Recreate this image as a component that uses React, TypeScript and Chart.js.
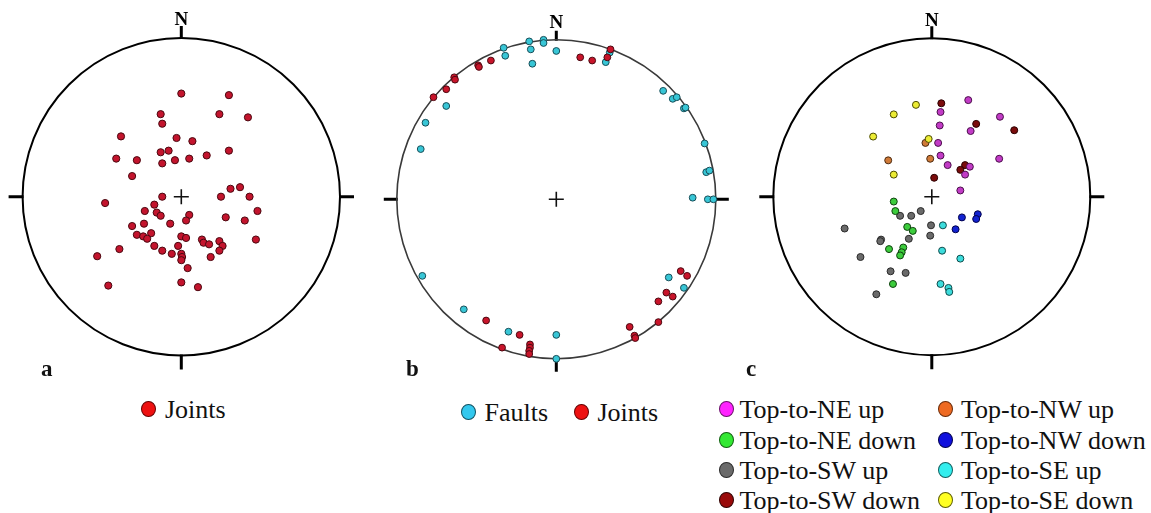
import React, { useEffect, useRef } from 'react';
import { Chart, registerables } from 'chart.js';

Chart.register(...registerables);

// ---------- DATA (normalized equal-area projection coordinates, primitive circle radius = 1) ----------
const jointsA: number[][] = [
  [0.0, 0.65], [0.30, 0.64], [-0.13, 0.52], [-0.12, 0.46], [0.24, 0.52], [0.42, 0.50],
  [-0.38, 0.38], [-0.03, 0.37], [0.07, 0.35], [-0.08, 0.29], [-0.13, 0.28], [0.30, 0.29],
  [-0.41, 0.24], [-0.28, 0.23], [-0.04, 0.23], [0.05, 0.24], [0.16, 0.26], [-0.12, 0.21],
  [-0.31, 0.13], [0.31, 0.05], [0.37, 0.06], [-0.12, 0.0], [0.25, 0.0], [0.43, 0.0],
  [-0.48, -0.04], [-0.17, -0.05], [-0.23, -0.09], [-0.155, -0.10], [-0.13, -0.12], [0.05, -0.115],
  [0.03, -0.15], [0.48, -0.09], [0.28, -0.13], [0.40, -0.15], [-0.235, -0.17], [-0.07, -0.17],
  [-0.31, -0.185], [-0.28, -0.24], [-0.24, -0.25], [-0.19, -0.23], [-0.215, -0.265], [0.0, -0.25],
  [0.03, -0.26], [0.13, -0.27], [0.14, -0.29], [0.175, -0.30], [0.24, -0.28], [0.26, -0.31],
  [0.24, -0.34], [0.47, -0.27], [-0.17, -0.31], [-0.02, -0.31], [-0.39, -0.33], [-0.12, -0.34],
  [-0.06, -0.36], [0.0, -0.36], [0.005, -0.38], [0.0, -0.40], [0.185, -0.38], [-0.53, -0.375],
  [0.04, -0.45], [0.0, -0.54], [0.105, -0.57], [-0.46, -0.56],
];

const faultsB: number[][] = [
  [-0.17, 0.99], [-0.08, 1.0], [-0.08, 0.98], [0.0, 0.93], [-0.16, 0.94], [-0.15, 0.85],
  [-0.33, 0.95], [-0.32, 0.90], [0.335, 0.92], [0.31, 0.86], [0.67, 0.68], [0.73, 0.63],
  [0.755, 0.64], [0.80, 0.57], [0.81, 0.575], [0.93, 0.35], [0.94, 0.17], [0.96, 0.18],
  [0.855, 0.01], [0.95, 0.0], [0.985, 0.0], [-0.69, 0.585], [-0.82, 0.48], [-0.85, 0.315],
  [-0.84, -0.48], [-0.58, -0.69], [-0.30, -0.83], [0.0, -0.85], [0.0, -1.0], [0.705, -0.49],
  [0.80, -0.555],
];

const jointsB: number[][] = [
  [0.34, 0.94], [0.32, 0.89], [0.15, 0.89], [0.225, 0.87], [-0.41, 0.87], [-0.49, 0.84],
  [-0.485, 0.83], [-0.64, 0.765], [-0.635, 0.75], [-0.69, 0.69], [-0.77, 0.64], [0.78, -0.45],
  [0.82, -0.48], [0.69, -0.585], [0.73, -0.61], [0.64, -0.64], [0.64, -0.77], [0.46, -0.80],
  [0.49, -0.855], [0.495, -0.87], [-0.44, -0.76], [-0.23, -0.85], [-0.34, -0.93], [-0.165, -0.91],
  [-0.165, -0.93], [-0.17, -0.95], [-0.17, -0.97],
];

const neUp: number[][] = [
  [0.23, 0.61], [0.055, 0.535], [0.05, 0.45], [0.43, 0.505], [0.245, 0.415], [0.04, 0.34],
  [0.055, 0.26], [0.425, 0.24], [0.10, 0.20], [0.24, 0.19], [0.21, 0.14], [0.18, 0.04],
];
const neDown: number[][] = [
  [-0.24, -0.03], [-0.23, -0.09], [-0.155, -0.19], [-0.12, -0.215], [-0.27, -0.33],
  [-0.18, -0.32], [-0.19, -0.35], [-0.20, -0.37], [-0.245, -0.55],
];
const swUp: number[][] = [
  [-0.07, -0.09], [-0.13, -0.12], [-0.20, -0.12], [-0.005, -0.18], [-0.01, -0.245],
  [-0.145, -0.265], [-0.32, -0.27], [-0.325, -0.28], [-0.55, -0.20], [-0.45, -0.38],
  [-0.26, -0.47], [-0.165, -0.48], [-0.35, -0.615],
];
const swDown: number[][] = [
  [0.06, 0.59], [0.28, 0.46], [0.52, 0.42], [0.21, 0.20], [0.18, 0.17], [0.015, 0.12],
];
const nwUp: number[][] = [[-0.04, 0.34], [-0.275, 0.23], [-0.01, 0.24]];
const nwDown: number[][] = [[0.19, -0.13], [0.15, -0.205], [0.29, -0.11], [0.28, -0.14]];
const seUp: number[][] = [
  [0.07, -0.18], [0.065, -0.34], [0.18, -0.39], [0.055, -0.55], [0.105, -0.575], [0.11, -0.60],
];
const seDown: number[][] = [
  [-0.10, 0.58], [-0.24, 0.52], [-0.37, 0.38], [-0.02, 0.365], [-0.24, 0.14],
];

const legendA = ['Joints'];
const legendB = ['Faults', 'Joints'];
const legendC = [
  'Top-to-NE up', 'Top-to-NW up',
  'Top-to-NE down', 'Top-to-NW down',
  'Top-to-SW up', 'Top-to-SE up',
  'Top-to-SW down', 'Top-to-SE down',
];
const panelLetters = ['a', 'b', 'c'];

// ---------- helpers ----------
const SERIF = '"Liberation Serif", "Times New Roman", Times, serif';
const toPts = (arr: number[][]) => arr.map(([x, y]) => ({ x, y }));

const stereoPlugin = {
  id: 'stereo',
  beforeDatasetsDraw(chart: any, _args: any, opts: any) {
    const { ctx, scales } = chart;
    const x = scales.x;
    const y = scales.y;
    const cx = x.getPixelForValue(0);
    const cy = y.getPixelForValue(0);
    const r = x.getPixelForValue(1) - cx;
    ctx.save();
    // ticks
    ctx.strokeStyle = '#000';
    ctx.lineWidth = 3;
    ctx.lineCap = 'butt';
    ctx.beginPath();
    ctx.moveTo(cx, cy - r + 1);
    ctx.lineTo(cx, cy - r - opts.topTick);
    ctx.moveTo(cx, cy + r - 1);
    ctx.lineTo(cx, cy + r + opts.tick);
    ctx.moveTo(cx - r + 1, cy);
    ctx.lineTo(cx - r - opts.tick, cy);
    ctx.moveTo(cx + r - 1, cy);
    ctx.lineTo(cx + r + opts.tick, cy);
    ctx.stroke();
    // primitive circle
    ctx.strokeStyle = opts.circleColor;
    ctx.lineWidth = opts.circleWidth;
    ctx.beginPath();
    ctx.arc(cx, cy, r, 0, Math.PI * 2);
    ctx.stroke();
    // center cross
    ctx.strokeStyle = '#111';
    ctx.lineWidth = 1.6;
    ctx.beginPath();
    ctx.moveTo(cx - 7.5, cy);
    ctx.lineTo(cx + 7.5, cy);
    ctx.moveTo(cx, cy - 7.5);
    ctx.lineTo(cx, cy + 7.5);
    ctx.stroke();
    // N label
    ctx.fillStyle = '#000';
    ctx.font = `bold 19px ${SERIF}`;
    ctx.textAlign = 'center';
    ctx.textBaseline = 'alphabetic';
    ctx.fillText('N', cx, cy - r - opts.nGap);
    ctx.restore();
  },
};

type DS = { label: string; data: number[][]; bg: string; border: string };

const CANVAS_W = 380;
const CANVAS_H = 392;

function StereoPanel(props: {
  cx: number; cy: number; R: number; sets: DS[];
  circleColor: string; circleWidth: number; topTick: number; tick: number; nGap: number;
  pointRadius: number;
}) {
  const ref = useRef<HTMLCanvasElement | null>(null);
  const left = Math.round(props.cx - CANVAS_W / 2);
  useEffect(() => {
    if (!ref.current) return;
    const lcx = props.cx - left;
    const chart = new Chart(ref.current, {
      type: 'scatter',
      data: {
        datasets: props.sets.map((s) => ({
          label: s.label,
          data: toPts(s.data),
          backgroundColor: s.bg,
          borderColor: s.border,
          borderWidth: 1,
          pointRadius: props.pointRadius,
          pointHoverRadius: props.pointRadius,
          clip: false as any,
        })),
      },
      options: {
        responsive: false,
        animation: false,
        devicePixelRatio: 1,
        events: [],
        layout: {
          padding: {
            left: lcx - props.R,
            right: CANVAS_W - (lcx + props.R),
            top: props.cy - props.R,
            bottom: CANVAS_H - (props.cy + props.R),
          },
        },
        scales: {
          x: { type: 'linear', min: -1, max: 1, display: false },
          y: { type: 'linear', min: -1, max: 1, display: false },
        },
        plugins: {
          legend: { display: false },
          tooltip: { enabled: false },
          stereo: {
            circleColor: props.circleColor,
            circleWidth: props.circleWidth,
            topTick: props.topTick,
            tick: props.tick,
            nGap: props.nGap,
          },
        } as any,
      },
      plugins: [stereoPlugin],
    });
    return () => chart.destroy();
  }, []);
  return (
    <canvas
      ref={ref}
      width={CANVAS_W}
      height={CANVAS_H}
      style={{ position: 'absolute', left, top: 0, width: CANVAS_W, height: CANVAS_H }}
    />
  );
}

function LegendItem({ mx, my, tx, color, border, text }: { mx: number; my: number; tx: number; color: string; border: string; text: string }) {
  return (
    <>
      <span
        style={{
          position: 'absolute', left: mx - 7.5, top: my - 8, width: 15, height: 16,
          borderRadius: '50%', background: color, border: `1px solid ${border}`, boxSizing: 'border-box',
        }}
      />
      <div
        style={{
          position: 'absolute', left: tx, top: my - 14, fontFamily: SERIF, fontSize: 26,
          lineHeight: '30px', color: '#111', whiteSpace: 'nowrap',
        }}
      >
        {text}
      </div>
    </>
  );
}

function Letter({ x, text }: { x: number; text: string }) {
  return (
    <div
      style={{
        position: 'absolute', left: x, top: 355, fontFamily: SERIF, fontWeight: 'bold',
        fontSize: 23, lineHeight: '28px', color: '#111',
      }}
    >
      {text}
    </div>
  );
}

export default function App() {
  const setsA: DS[] = [{ label: 'Joints', data: jointsA, bg: '#c3142d', border: '#4a0810' }];
  const setsB: DS[] = [
    { label: 'Joints', data: jointsB, bg: '#c8142a', border: '#4a0810' },
    { label: 'Faults', data: faultsB, bg: '#38c6d6', border: '#174d57' },
  ];
  const setsC: DS[] = [
    { label: legendC[0], data: neUp, bg: '#c23bc6', border: '#4a104a' },
    { label: legendC[6], data: swDown, bg: '#7a0c0c', border: '#2a0000' },
    { label: legendC[7], data: seDown, bg: '#ecec34', border: '#4a4a00' },
    { label: legendC[1], data: nwUp, bg: '#d07a38', border: '#4a2a10' },
    { label: legendC[2], data: neDown, bg: '#3ccc3c', border: '#0e400e' },
    { label: legendC[4], data: swUp, bg: '#6a6a6a', border: '#2a2a2a' },
    { label: legendC[3], data: nwDown, bg: '#1222d0', border: '#00004a' },
    { label: legendC[5], data: seUp, bg: '#3cdcdc', border: '#0e4a4a' },
  ];

  const legendColorsC = [
    ['#ff22ff', '#6a106a'], ['#ee6a22', '#6a2a08'],
    ['#33e833', '#106010'], ['#1010dd', '#000050'],
    ['#6a6a6a', '#2a2a2a'], ['#33eeee', '#106060'],
    ['#990a0a', '#300000'], ['#ffff22', '#606000'],
  ];
  const rowsY = [408.5, 439.5, 469.5, 500];

  return (
    <div style={{ position: 'fixed', left: 0, top: 0, width: 1151, height: 513, background: '#fff', overflow: 'hidden' }}>
      <StereoPanel cx={181.3} cy={196.7} R={158.7} sets={setsA} circleColor="#000" circleWidth={2}
        topTick={12} tick={14} nGap={13} pointRadius={3.6} />
      <StereoPanel cx={556.3} cy={199.3} R={159.5} sets={setsB} circleColor="#3a3a3a" circleWidth={1.6}
        topTick={9} tick={13} nGap={12} pointRadius={3.4} />
      <StereoPanel cx={931.8} cy={196.8} R={158.5} sets={setsC} circleColor="#000" circleWidth={2}
        topTick={12} tick={14} nGap={12} pointRadius={3.5} />

      <Letter x={41} text={panelLetters[0]} />
      <Letter x={406} text={panelLetters[1]} />
      <Letter x={746} text={panelLetters[2]} />

      <LegendItem mx={148.3} my={409.3} tx={165} color="#ee1111" border="#600" text={legendA[0]} />
      <LegendItem mx={468.3} my={411.5} tx={484.5} color="#33c8ee" border="#105060" text={legendB[0]} />
      <LegendItem mx={581.7} my={411.5} tx={597.5} color="#ee1111" border="#600" text={legendB[1]} />

      {legendC.map((t, i) => {
        const col = i % 2;
        const row = Math.floor(i / 2);
        return (
          <LegendItem
            key={t}
            mx={col === 0 ? 726.7 : 945}
            my={rowsY[row]}
            tx={col === 0 ? 739.5 : 961}
            color={legendColorsC[i][0]}
            border={legendColorsC[i][1]}
            text={t}
          />
        );
      })}
    </div>
  );
}
